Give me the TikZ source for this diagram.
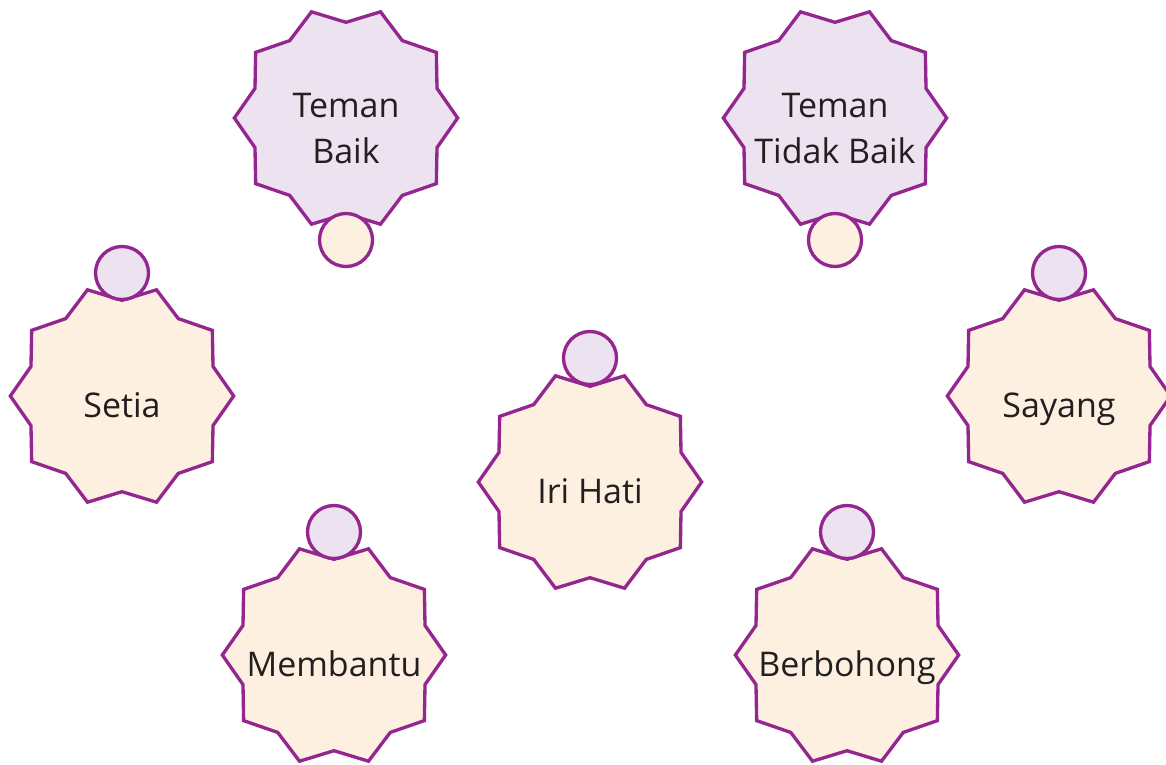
\documentclass[tikz,border=0pt]{standalone}
\usepackage{fontspec}
\setmainfont{Open Sans}
\usetikzlibrary{shapes.geometric}
\definecolor{strokeP}{HTML}{93278F}
\definecolor{lav}{HTML}{EDE2F0}
\definecolor{peach}{HTML}{FDF0E1}
\definecolor{txt}{HTML}{231F20}
\tikzset{
  burst/.style={star, star points=10, star point ratio=1.167, shape border rotate=90,
    minimum size=167.5pt, inner sep=0pt, draw=strokeP, line width=2.5pt, line join=miter},
  lavburst/.style={burst, fill=lav},
  peachburst/.style={burst, fill=peach},
  knob/.style={circle, minimum size=39.75pt, inner sep=0pt, draw=strokeP, line width=2.5pt},
  lavknob/.style={knob, fill=lav},
  peachknob/.style={knob, fill=peach},
  lbl/.style={text=txt, inner sep=0pt, font=\fontsize{25.5}{34.5}\selectfont, align=center}
}
\begin{document}
\begin{tikzpicture}[x=0.75pt, y=-0.75pt]
\useasboundingbox (0,0) rectangle (1166,764);
\clip (0,0) rectangle (1166,764);
% top row
\node[lavburst] (baik) at (346,118) {};
\node[peachknob] (baikk) at (346,240) {};
\node[lbl, anchor=base] (baikt) at (346,163) {Teman\\Baik};
\node[lavburst] (tbaik) at (835,118) {};
\node[peachknob] (tbaikk) at (835,240) {};
\node[lbl, anchor=base] (tbaikt) at (835,163) {Teman\\Tidak Baik};
% middle row
\node[peachburst] (setia) at (122,396) {};
\node[lavknob] (setiak) at (122,273) {};
\node[lbl, anchor=base] (setiat) at (122,417) {Setia};
\node[peachburst] (iri) at (590,482) {};
\node[lavknob] (irik) at (590,358) {};
\node[lbl, anchor=base] (irit) at (590,503) {Iri Hati};
\node[peachburst] (sayang) at (1059,396) {};
\node[lavknob] (sayangk) at (1059,273) {};
\node[lbl, anchor=base] (sayangt) at (1059,417) {Sayang};
% bottom row
\node[peachburst] (bantu) at (334,655) {};
\node[lavknob] (bantuk) at (334,532) {};
\node[lbl, anchor=base] (bantut) at (334,676) {Membantu};
\node[peachburst] (bohong) at (847,655) {};
\node[lavknob] (bohongk) at (847,532) {};
\node[lbl, anchor=base] (bohongt) at (847,676) {Berbohong};
\end{tikzpicture}
\end{document}
